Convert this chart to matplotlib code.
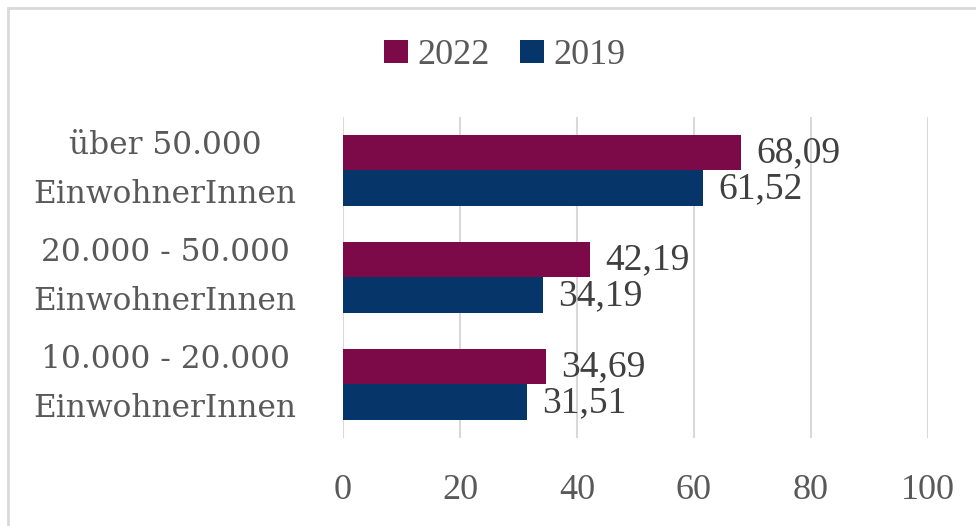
import matplotlib
matplotlib.use("Agg")
import matplotlib.pyplot as plt
import numpy as np
from matplotlib.patches import Rectangle

categories = ["über 50.000\nEinwohnerInnen", "20.000 - 50.000\nEinwohnerInnen", "10.000 - 20.000\nEinwohnerInnen"]
series_names = ["2022", "2019"]
values_2022 = [68.09, 42.19, 34.69]
values_2019 = [61.52, 34.19, 31.51]
xticks = [0, 20, 40, 60, 80, 100]

c2022 = "#7C0A48"
c2019 = "#06356A"
txt = "#595959"
lbl = "#404040"

plt.rcParams['font.family'] = ['Liberation Serif', 'DejaVu Serif']

fig = plt.figure(figsize=(9.76, 5.26), dpi=100)
fig.patches.append(Rectangle((7.5 / 976, -0.05), 1.2, 1.05 + (1 - 7.5 / 526) - 1.0,
                             transform=fig.transFigure,
                             fill=False, edgecolor="#D9D9D9", linewidth=2))
ax = fig.add_axes([0.3514, 0.1673, 0.5994, 0.6103])

y = np.arange(len(categories))
h = 0.336
b1 = ax.barh(y - h / 2, values_2022, height=h, color=c2022, label=series_names[0])
b2 = ax.barh(y + h / 2, values_2019, height=h, color=c2019, label=series_names[1])

for bars, vals in ((b1, values_2022), (b2, values_2019)):
    for bar, v in zip(bars, vals):
        ax.annotate(f"{v:.2f}".replace(".", ","),
                    (bar.get_width(), bar.get_y() + bar.get_height() / 2),
                    xytext=(11, 0), textcoords="offset points", va="center", ha="left",
                    fontsize=27, color=lbl)

ax.set_xlim(0, 100)
ax.set_ylim(len(categories) - 0.5, -0.5)
ax.set_xticks(xticks)
ax.set_xticklabels([str(t) for t in xticks], fontsize=26, color=txt)
ax.set_yticks(y)
ax.set_yticklabels(categories, fontsize=22.5, color=txt, ha="center", va="center",
                   linespacing=1.75, family=['DejaVu Serif'])
ax.tick_params(axis="y", length=0, pad=128)
ax.tick_params(axis="x", length=0, pad=26)
ax.grid(axis="x", color="#D9D9D9", linewidth=1.5)
ax.set_axisbelow(True)
for s in ax.spines.values():
    s.set_visible(False)

leg = fig.legend(loc="center", bbox_to_anchor=(0.517, 0.894), ncol=2, frameon=False,
                 fontsize=26, handlelength=0.67, handleheight=0.64, handletextpad=0.25,
                 columnspacing=0.85)
for t in leg.get_texts():
    t.set_color(txt)

fig.savefig("out.png", dpi=100)
